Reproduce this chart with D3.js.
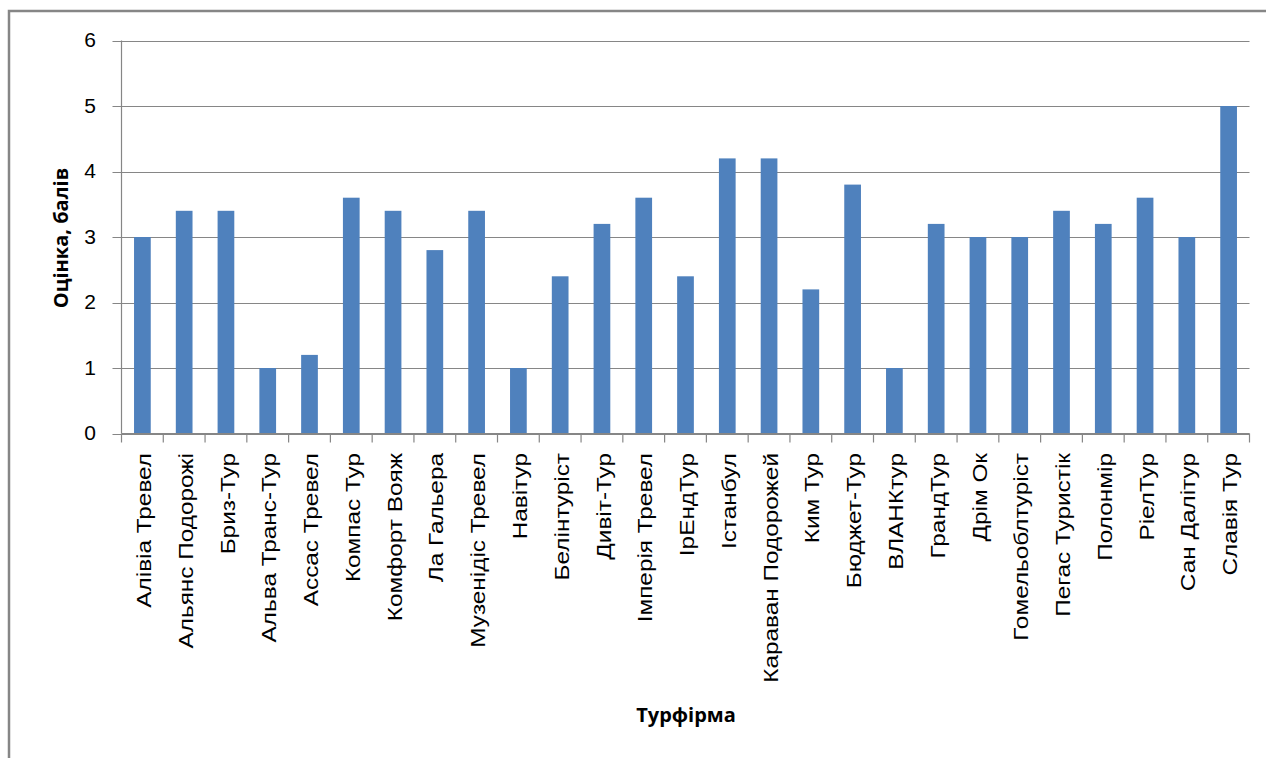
<!DOCTYPE html>
<html><head><meta charset="utf-8">
<script src="https://cdn.jsdelivr.net/npm/d3@7"></script>
<style>html,body{margin:0;padding:0;background:#fff;}svg{display:block;}</style>
</head><body>
<svg id="chart" width="1266" height="758"></svg>
<script>
const categories = ["Алівіа Тревел","Альянс Подорожі","Бриз-Тур","Альва Транс-Тур","Ассас Тревел","Компас Тур","Комфорт Вояж","Ла Гальера","Музенідіс Тревел","Навітур","Белінтуріст","Дивіт-Тур","Імперія Тревел","ІрЕндТур","Істанбул","Караван Подорожей","Ким Тур","Бюджет-Тур","ВЛАНКтур","ГрандТур","Дрім Ок","Гомельоблтуріст","Пегас Туристік","Полонмір","РіелТур","Сан Далітур","Славія Тур"];
const values = [3,3.4,3.4,1,1.2,3.6,3.4,2.8,3.4,1,2.4,3.2,3.6,2.4,4.2,4.2,2.2,3.8,1,3.2,3,3,3.4,3.2,3.6,3,5];
const yTicks = [0,1,2,3,4,5,6];
const yTitle = "Оцінка, балів";
const xTitle = "Турфірма";

const svg = d3.select("#chart");
const mLeft = 121.5, mRight = 1249.5, mTop = 40.5, mBottom = 433.5;
const grey = "#868686";

// outer frame
svg.append("path").attr("d","M9,758 V11 H1266").attr("fill","none").attr("stroke",grey).attr("stroke-width",2.5);

const x = d3.scaleBand().domain(categories).range([mLeft,mRight]).paddingInner(0.6).paddingOuter(0.3);
const y = d3.scaleLinear().domain([0,6]).range([mBottom,mTop]);

// gridlines
svg.append("g").selectAll("line").data(yTicks).join("line")
  .attr("x1",mLeft-9).attr("x2",mRight).attr("y1",d=>Math.round(y(d))+0.5).attr("y2",d=>Math.round(y(d))+0.5)
  .attr("stroke",grey).attr("stroke-width",1.2);

// y axis line
svg.append("line").attr("x1",mLeft).attr("x2",mLeft).attr("y1",mTop).attr("y2",mBottom).attr("stroke",grey).attr("stroke-width",1.2);

// bars
svg.append("g").selectAll("rect").data(values).join("rect")
  .attr("x",(d,i)=>x(categories[i])).attr("width",x.bandwidth())
  .attr("y",d=>y(d)).attr("height",d=>y(0)-y(d)).attr("fill","#4f81bd");

// x axis line redraw
svg.append("line").attr("x1",mLeft).attr("x2",mRight).attr("y1",mBottom).attr("y2",mBottom).attr("stroke",grey).attr("stroke-width",1.2);

// category tick marks
const step = x.step();
svg.append("g").selectAll("line").data(d3.range(categories.length+1)).join("line")
  .attr("x1",i=>mLeft+i*step).attr("x2",i=>mLeft+i*step).attr("y1",mBottom).attr("y2",mBottom+9)
  .attr("stroke",grey).attr("stroke-width",1.2);

// y tick labels
svg.append("g").selectAll("text").data(yTicks).join("text")
  .attr("transform",d=>`translate(96,${y(d)}) scale(1,0.92)`)
  .attr("dy","0.36em").attr("text-anchor","end")
  .attr("font-family","Liberation Sans, Arial, sans-serif").attr("font-size",21).attr("fill","#000")
  .text(d=>d);

// category labels
svg.append("g").selectAll("text").data(categories).join("text")
  .attr("transform",d=>`translate(${x(d)+x.bandwidth()/2+1},453) rotate(-90) scale(1.16,1)`)
  .attr("dy","0.36em").attr("text-anchor","end")
  .attr("font-family","Liberation Sans, Arial, sans-serif").attr("font-size",21).attr("fill","#000")
  .text(d=>d);

// axis titles
svg.append("text").attr("transform","translate(61,238) rotate(-90)")
  .attr("text-anchor","middle").attr("dy","0.36em")
  .attr("font-family","Open Sans, DejaVu Sans, sans-serif").attr("font-weight","bold").attr("font-size",20)
  .text(yTitle);
svg.append("text").attr("x",686).attr("y",722).attr("text-anchor","middle")
  .attr("font-family","Open Sans, DejaVu Sans, sans-serif").attr("font-weight","bold").attr("font-size",20)
  .text(xTitle);
</script>
</body></html>
